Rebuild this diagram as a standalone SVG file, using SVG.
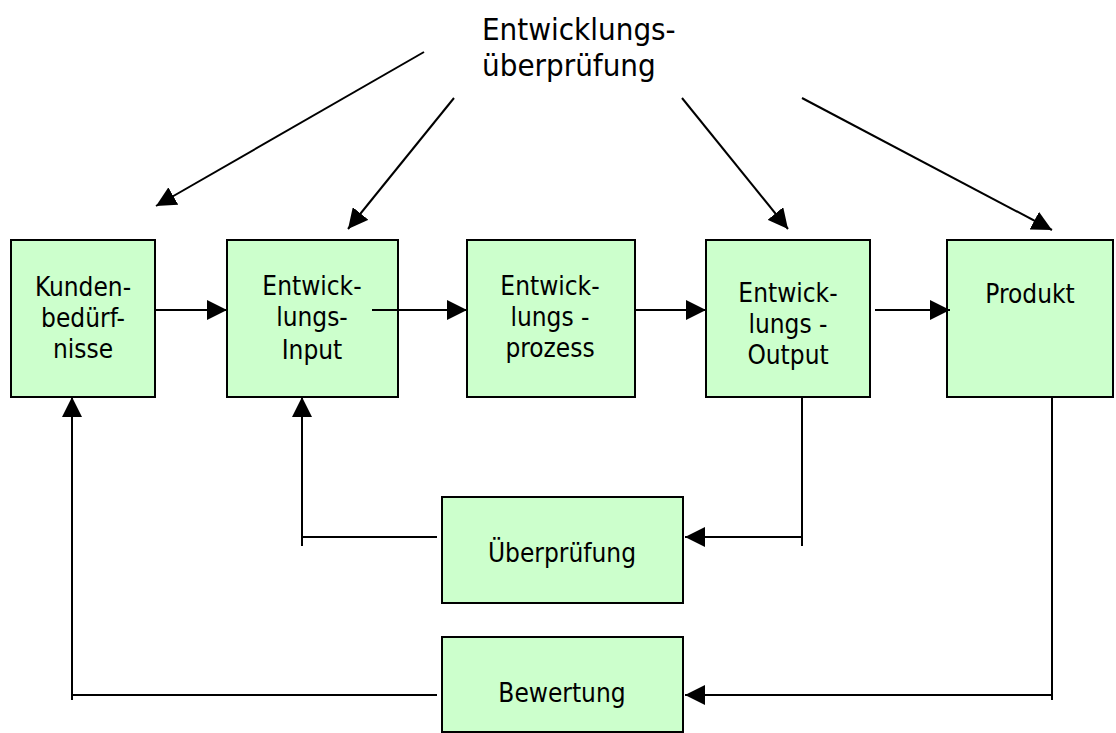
<svg xmlns="http://www.w3.org/2000/svg" width="1116" height="733" viewBox="0 0 1116 733">
<style>
.box{fill:#CCFFCC;stroke:#000;stroke-width:2}
.t{font-family:"DejaVu Sans Condensed","DejaVu Sans",sans-serif;font-size:26px;fill:#000;text-anchor:middle}
.title{font-family:"DejaVu Sans Condensed","DejaVu Sans",sans-serif;font-size:31px;fill:#000}
.c{fill:none;stroke:#000;stroke-width:2}
</style>
<defs>
<marker id="ah" markerUnits="userSpaceOnUse" viewBox="0 0 20 20" markerWidth="20" markerHeight="20" refX="20" refY="10" orient="auto">
<path d="M0,0 L20,10 L0,20 z" fill="#000"/>
</marker>
</defs>
<rect width="1116" height="733" fill="#fff"/>
<g id="title">
<text class="title" x="482" y="40">Entwicklungs-</text>
<text class="title" x="482" y="76">überprüfung</text>
</g>
<g id="kunden">
<rect class="box" x="11" y="240" width="144" height="157"/>
<text class="t" x="83" y="296">Kunden-</text>
<text class="t" x="83" y="327">bedürf-</text>
<text class="t" x="83" y="358">nisse</text>
</g>
<g id="input">
<rect class="box" x="227" y="240" width="171" height="157"/>
<text class="t" x="312" y="295">Entwick-</text>
<text class="t" x="312" y="326">lungs-</text>
<text class="t" x="312" y="359">Input</text>
</g>
<g id="prozess">
<rect class="box" x="467" y="240" width="168" height="157"/>
<text class="t" x="550" y="295">Entwick-</text>
<text class="t" x="550" y="326">lungs -</text>
<text class="t" x="550" y="357">prozess</text>
</g>
<g id="output">
<rect class="box" x="706" y="240" width="164" height="157"/>
<text class="t" x="788" y="302">Entwick-</text>
<text class="t" x="788" y="333">lungs -</text>
<text class="t" x="788" y="364">Output</text>
</g>
<g id="produkt">
<rect class="box" x="947" y="240" width="166" height="157"/>
<text class="t" x="1030" y="303">Produkt</text>
</g>
<g id="ueberpruefung">
<rect class="box" x="442" y="497" width="241" height="106"/>
<text class="t" x="562" y="562">Überprüfung</text>
</g>
<g id="bewertung">
<rect class="box" x="442" y="637" width="241" height="95"/>
<text class="t" x="562" y="702">Bewertung</text>
</g>
<g id="connectors">
<path class="c" d="M155,310 H227" marker-end="url(#ah)"/>
<path class="c" d="M372,310 H467" marker-end="url(#ah)"/>
<path class="c" d="M636,310 H706" marker-end="url(#ah)"/>
<path class="c" d="M875,310 H950" marker-end="url(#ah)"/>
<path class="c" d="M802,397 V546 M802,537 H685" marker-end="url(#ah)"/>
<path class="c" d="M437,537 H302 M302,546 V397" marker-end="url(#ah)"/>
<path class="c" d="M1052,397 V700 M1052,695 H685" marker-end="url(#ah)"/>
<path class="c" d="M437,695 H72 M72,700 V397" marker-end="url(#ah)"/>
<path class="c" d="M424,52 L156,206" marker-end="url(#ah)"/>
<path class="c" d="M454,98 L348,229" marker-end="url(#ah)"/>
<path class="c" d="M682,98 L788,229" marker-end="url(#ah)"/>
<path class="c" d="M802,98 L1052,230" marker-end="url(#ah)"/>
</g>
</svg>
